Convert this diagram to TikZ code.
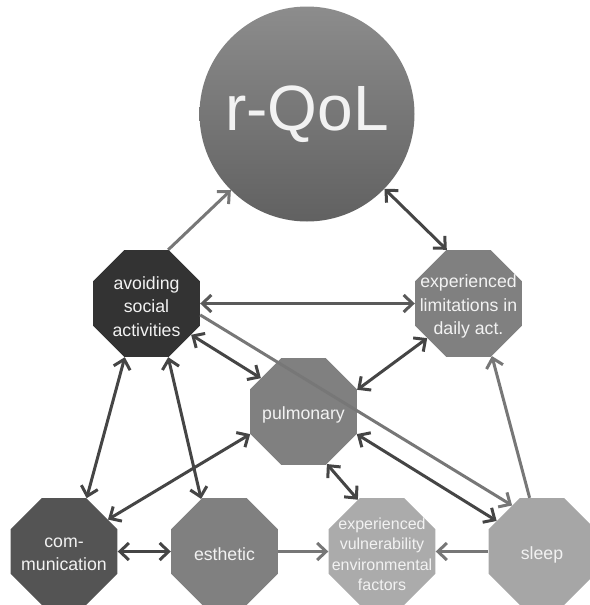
\documentclass[tikz,border=0pt]{standalone}
\usepackage{fontspec}
\setmainfont{Liberation Sans}
\usetikzlibrary{shapes.geometric,arrows.meta}
\definecolor{dk}{HTML}{454545}
\definecolor{md}{HTML}{5A5A5A}
\definecolor{lt}{HTML}{777777}
\definecolor{txt}{HTML}{F2F2F2}
\tikzset{
  oct/.style={regular polygon, regular polygon sides=8, minimum size=115.8pt, inner sep=0pt, draw=none, fill=#1},
  lbl/.style={text=txt, align=center, font=\fontsize{17.7}{23.5}\selectfont, inner sep=0pt, yshift=-3pt},
  lbls/.style={text=txt, align=center, font=\fontsize{16}{20.5}\selectfont, inner sep=0pt, yshift=-3pt},
  >={Straight Barb[length=9pt,width=17pt]},
  dkline/.style={draw=dk, line width=3pt},
  mdline/.style={draw=md, line width=3pt},
  ltline/.style={draw=lt, line width=3pt},
}
\begin{document}
\begin{tikzpicture}[x=1pt,y=-1pt]
\useasboundingbox (0,0) rectangle (589,605);
\node[circle, minimum size=215pt, inner sep=0pt, shade, shading angle=-45,
      top color=black!45, bottom color=black!62, text=txt,
      font=\fontsize{64}{70}\selectfont] (Q) at (307,114) {r-QoL};
\node[oct={black!80}, label={[lbl]center:{avoiding\\social\\activities}}] (av) at (146.5,303.5) {};
\node[oct={black!50}, label={[lbl]center:{experienced\\limitations in\\daily act.}}] (lim) at (468.5,303.5) {};
\node[oct={black!50}, label={[lbl]center:{pulmonary}}] (pul) at (303.5,411.5) {};
\node[oct={black!67}, label={[lbl]center:{com-\\munication}}] (com) at (64,551.5) {};
\node[oct={black!50}, label={[lbl]center:{esthetic}}] (est) at (224.5,551.5) {};
\node[oct={black!33}, label={[lbls]center:{experienced\\vulnerability\\environmental\\factors}}] (vul) at (382,551.5) {};
\node[oct={black!35}, label={[lbl]center:{sleep}}] (slp) at (542,551.5) {};
% connectors
\draw[ltline,->] (av.68) -- (Q.225);
\draw[dkline,<->] (Q.-44) -- (lim.112);
\draw[mdline,<->] (av.0) -- (lim.180);
\draw[dkline,<->] (av.-35) -- (pul.142);
\draw[ltline,->] (av.-12) -- (slp.123);
\draw[dkline,<->] (pul.-23) -- (slp.146);
\draw[dkline,<->] (pul.22) -- (lim.220);
\draw[ltline,->] (slp.103) -- (lim.-66);
\draw[dkline,<->] (pul.-66) -- (vul.115);
\draw[ltline,->] (slp.180) -- (vul.0);
\draw[ltline,->] (est.0) -- (vul.180);
\draw[dkline,<->] (com.0) -- (est.180);
\draw[dkline,<->] (com.36) -- (pul.203);
\draw[dkline,<->] (av.248) -- (com.67);
\draw[dkline,<->] (av.-68) -- (est.114);
\end{tikzpicture}
\end{document}
